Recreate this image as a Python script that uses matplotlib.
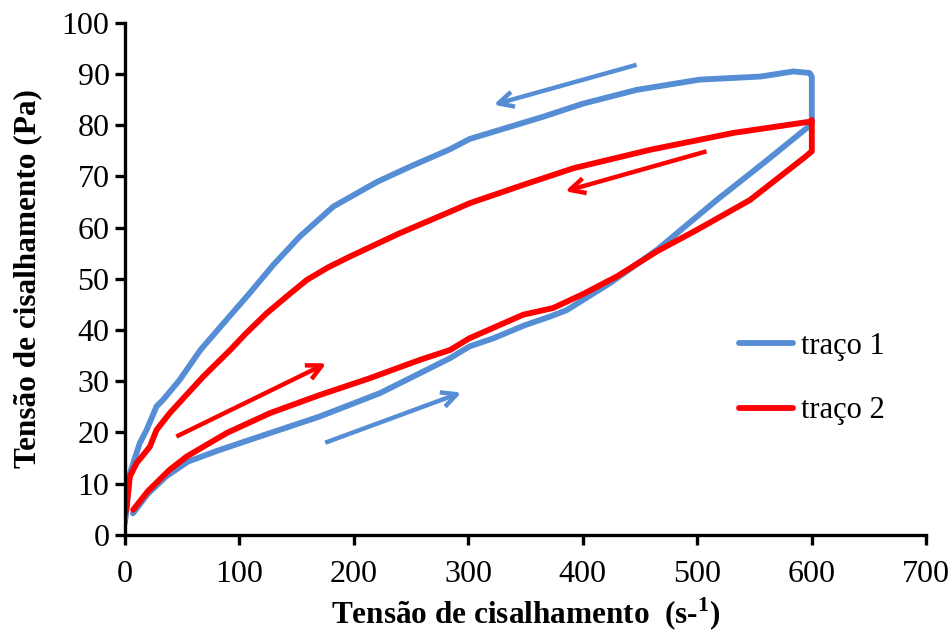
import matplotlib
matplotlib.use("Agg")
import matplotlib.pyplot as plt

plt.rcParams['font.family'] = ['Liberation Serif', 'DejaVu Serif']
plt.rcParams['mathtext.fontset'] = 'custom'
plt.rcParams['mathtext.rm'] = 'Liberation Serif'
plt.rcParams['mathtext.bf'] = 'Liberation Serif:bold'

# trace 1 (blue): increasing-rate branch, then decreasing-rate branch
t1_up_x = [7, 20, 36, 55, 83, 127, 170, 200, 223, 258, 284, 301, 322, 350, 371, 386,
           424, 465, 517, 560, 597, 600]
t1_up_y = [4.2, 8, 11.4, 14.3, 16.6, 19.9, 23.1, 25.7, 27.7, 31.6, 34.5, 36.8, 38.4, 41,
           42.6, 43.9, 49.2, 55.7, 65.4, 73, 79.7, 80.5]
t1_dn_x = [600, 600, 598, 584, 555, 502, 447, 400, 366, 301, 284, 250, 220, 182, 153, 130,
           109, 88, 66, 48, 33.5, 27.7, 19, 13, 4.4, 1.5, 0]
t1_dn_y = [80.5, 89.5, 90.2, 90.5, 89.5, 88.9, 86.9, 84.2, 81.7, 77.3, 75.3, 72, 68.9, 64.1,
           58.3, 52.8, 47.2, 41.8, 36.1, 30.3, 26.4, 25.1, 20.5, 17.9, 12, 5, 2.3]

# trace 2 (red)
t2_up_x = [7.3, 20, 39, 54, 89, 127, 170, 214, 258, 284, 301, 348, 374, 400, 430, 465,
           500, 546, 593, 600]
t2_up_y = [4.9, 8.5, 12.7, 15.3, 19.9, 23.8, 27.3, 30.6, 34.2, 36.1, 38.4, 43, 44.3, 47,
           50.5, 55.4, 59.6, 65.4, 73.6, 74.9]
t2_dn_x = [600, 600, 598.6, 531.6, 458.8, 391.8, 350, 301.5, 284, 240, 197, 178, 159, 141,
           124, 106, 92, 68.4, 39.3, 27.7, 21.8, 10.2, 4.4, 1.5, 0.5]
t2_dn_y = [74.9, 81, 80.7, 78.5, 75.2, 71.6, 68.5, 64.8, 63.1, 58.9, 54.4, 52.3, 49.8, 46.5,
           43.3, 39.4, 36.1, 30.9, 23.8, 20.5, 17.2, 14, 11.4, 5.5, 4.2]

# direction arrows: (x_start, y_start, x_end, y_end)
arrows_blue = [(447, 91.8, 322, 84.0), (175, 18.0, 294, 27.8)]
arrows_red = [(508, 74.9, 384.5, 67.1), (45, 19.2, 176, 33.5)]

blue = '#558ED5'
red = '#FF0000'

fig = plt.figure(figsize=(9.53, 6.33), dpi=100)
ax = fig.add_axes([0.131, 0.155, 0.841, 0.809])

ax.plot(t1_up_x + t1_dn_x, t1_up_y + t1_dn_y, color=blue, lw=4.2,
        solid_joinstyle='round', solid_capstyle='round', label='traço 1')
ax.plot(t2_up_x + t2_dn_x, t2_up_y + t2_dn_y, color=red, lw=4.2,
        solid_joinstyle='round', solid_capstyle='round', label='traço 2')

astyle = '->,head_length=1.1,head_width=0.55'
for (x0, y0, x1, y1) in arrows_blue:
    ax.annotate('', xy=(x1, y1), xytext=(x0, y0),
                arrowprops=dict(arrowstyle=astyle, color=blue, lw=3.2,
                                shrinkA=0, shrinkB=0, capstyle='butt'))
for (x0, y0, x1, y1) in arrows_red:
    ax.annotate('', xy=(x1, y1), xytext=(x0, y0),
                arrowprops=dict(arrowstyle=astyle, color=red, lw=3.2,
                                shrinkA=0, shrinkB=0, capstyle='butt'))

ax.set_xlim(0, 700)
ax.set_ylim(0, 100)
ax.set_xticks(range(0, 701, 100))
ax.set_yticks(range(0, 101, 10))
for s in ['top', 'right']:
    ax.spines[s].set_visible(False)
for s in ['left', 'bottom']:
    ax.spines[s].set_linewidth(2.4)
ax.tick_params(axis='both', direction='out', length=7, width=2.4, labelsize=23,
               colors='black')
ax.tick_params(axis='x', pad=11)
ax.tick_params(axis='y', pad=4)

ax.set_xlabel(r'Tensão de cisalhamento  (s-$^{\mathbf{1}}$)', fontsize=22.5,
              fontweight='bold', labelpad=5)
ax.set_ylabel('Tensão de cisalhamento (Pa)', fontsize=22.5, fontweight='bold', labelpad=14)

leg = ax.legend(loc='center left', bbox_to_anchor=(0.7325, 0.305), frameon=False, fontsize=22,
                handlelength=1.75, labelspacing=1.15, handletextpad=0.25)

fig.savefig('out.png', dpi=100)
